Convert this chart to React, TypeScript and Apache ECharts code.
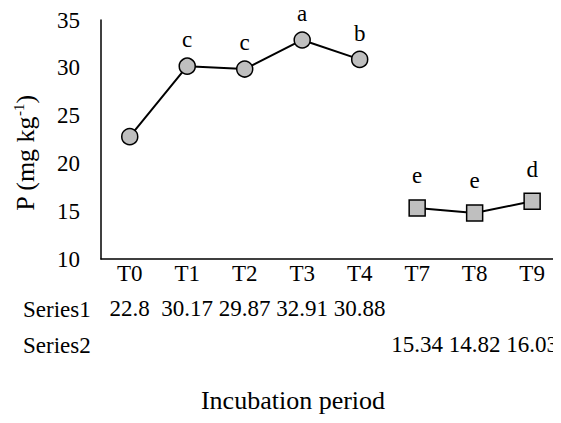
import React, { useEffect, useRef } from "react";
import * as echarts from "echarts";

const categories = ["T0", "T1", "T2", "T3", "T4", "T7", "T8", "T9"];
const series1 = [22.8, 30.17, 29.87, 32.91, 30.88, null, null, null];
const series2 = [null, null, null, null, null, 15.34, 14.82, 16.03];
const letters1 = ["", "c", "c", "a", "b", "", "", ""];
const letters2 = ["", "", "", "", "", "e", "e", "d"];
const table1 = ["22.8", "30.17", "29.87", "32.91", "30.88", "", "", ""];
const table2 = ["", "", "", "", "", "15.34", "14.82", "16.03"];
const yTicks = { min: 10, max: 35, interval: 5 };

const FONT = "Liberation Serif, Times New Roman, serif";
const FS = 23;
const TFS = 26;

export default function App() {
  const ref = useRef<HTMLDivElement>(null);
  useEffect(() => {
    if (!ref.current) return;
    const chart = echarts.init(ref.current, null, { renderer: "svg" });
    const tableAxis = (labels: string[], offset: number) => ({
      type: "category",
      data: categories,
      position: "bottom",
      offset,
      axisLine: { show: false },
      axisTick: { show: false },
      splitLine: { show: false },
      axisLabel: {
        interval: 0,
        color: "#000",
        fontFamily: FONT,
        fontSize: FS,
        margin: 5,
        formatter: (_v: string, i: number) => labels[i],
      },
    });
    chart.setOption({
      animation: false,
      backgroundColor: "#fff",
      grid: { left: 101, right: 0, top: 20, bottom: 164 },
      xAxis: [
        {
          type: "category",
          data: categories,
          axisLine: { show: true, lineStyle: { color: "#000", width: 1.5 } },
          axisTick: { show: false },
          axisLabel: { interval: 0, color: "#000", fontFamily: FONT, fontSize: FS, margin: 3 },
        },
        tableAxis(table1, 33),
        tableAxis(table2, 69),
      ],
      yAxis: {
        type: "value",
        min: yTicks.min,
        max: yTicks.max,
        interval: yTicks.interval,
        axisLine: { show: true, lineStyle: { color: "#000", width: 1.5 } },
        axisTick: { show: false },
        splitLine: { show: false },
        axisLabel: { color: "#000", fontFamily: FONT, fontSize: FS, margin: 21 },
      },
      series: [
        {
          name: "Series1",
          type: "line",
          data: series1,
          symbol: "circle",
          symbolSize: 16,
          lineStyle: { color: "#000", width: 2 },
          itemStyle: { color: "#bfbfbf", borderColor: "#000", borderWidth: 1.5 },
          label: {
            show: true,
            position: "top",
            distance: 6,
            color: "#000",
            fontFamily: FONT,
            fontSize: FS,
            formatter: (p: any) => letters1[p.dataIndex],
          },
        },
        {
          name: "Series2",
          type: "line",
          data: series2,
          symbol: "rect",
          symbolSize: 16,
          lineStyle: { color: "#000", width: 2 },
          itemStyle: { color: "#bfbfbf", borderColor: "#000", borderWidth: 1.5 },
          label: {
            show: true,
            position: "top",
            distance: 12,
            color: "#000",
            fontFamily: FONT,
            fontSize: FS,
            formatter: (p: any) => letters2[p.dataIndex],
          },
        },
      ],
      graphic: [
        {
          type: "text",
          x: 23,
          y: 309,
          style: { text: "Series1", fill: "#000", font: `${FS}px ${FONT}`, verticalAlign: "middle" },
        },
        {
          type: "text",
          x: 23,
          y: 345,
          style: { text: "Series2", fill: "#000", font: `${FS}px ${FONT}`, verticalAlign: "middle" },
        },
        {
          type: "text",
          x: 293,
          y: 400,
          style: {
            text: "Incubation period",
            fill: "#000",
            font: `${TFS}px ${FONT}`,
            align: "center",
            verticalAlign: "middle",
          },
        },
        {
          type: "text",
          x: 25,
          y: 153,
          rotation: Math.PI / 2,
          style: {
            text: "{n|P (mg kg}{s|-1}{n|)}",
            align: "center",
            verticalAlign: "middle",
            rich: {
              n: { fontFamily: FONT, fontSize: TFS, fill: "#000", color: "#000", verticalAlign: "bottom" },
              s: { fontFamily: FONT, fontSize: 15, fill: "#000", color: "#000", verticalAlign: "top", padding: [0, 0, 12, 0] },
            },
          },
        },
      ],
    });
    return () => chart.dispose();
  }, []);
  return <div ref={ref} style={{ width: 561, height: 423, marginLeft: -8, marginTop: -8 }} />;
}
